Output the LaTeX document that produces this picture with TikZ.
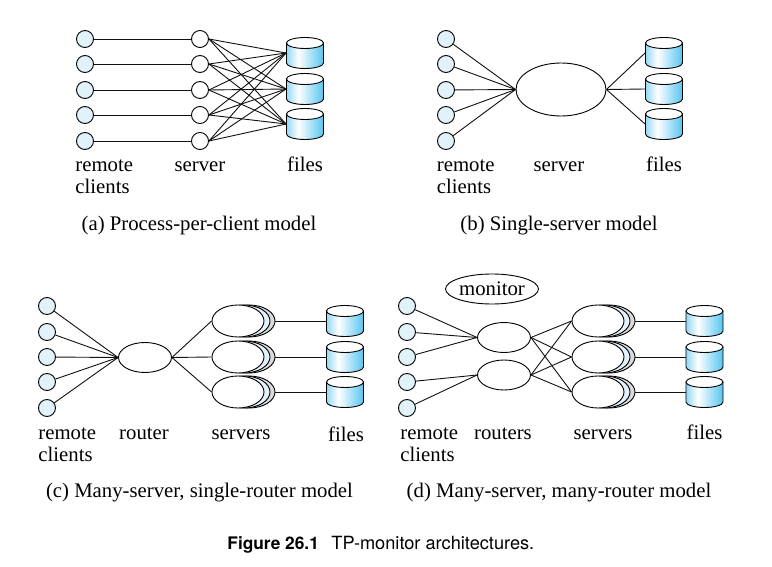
\documentclass[tikz,border=0pt]{standalone}
\usepackage{fontspec}
\setmainfont{Liberation Serif}
\newfontfamily\capfont{TeX Gyre Heros}
\usepackage{tikz}
\usetikzlibrary{arrows.meta,positioning,shapes.geometric,calc}
\definecolor{clientblue}{HTML}{E1F2FA}
\definecolor{stackgray}{HTML}{D9DADB}
\definecolor{wirecol}{HTML}{111111}
\definecolor{diskedge}{HTML}{94D8F3}
\definecolor{diskdeep}{HTML}{56C5F0}
\pgfdeclarehorizontalshading{diskshade}{100bp}{color(0bp)=(diskedge);color(25bp)=(diskedge);color(41bp)=(white);color(75bp)=(diskdeep);color(100bp)=(diskdeep)}

\begin{document}
\begin{tikzpicture}[
    x=1pt,
    y=-1pt,
    font=\fontsize{20.75}{24}\selectfont,
    line width=0.9pt,
    client/.style={circle, draw=black, fill=clientblue, minimum size=17pt, inner sep=0pt},
    proc/.style={circle, draw=black, fill=white, minimum size=17pt, inner sep=0pt},
    blob/.style={ellipse, draw=black, fill=white, inner sep=0pt},
    bigserver/.style={blob, minimum width=90pt, minimum height=53pt},
    router/.style={blob, minimum width=53pt, minimum height=30pt},
    srvfront/.style={blob, minimum width=52pt, minimum height=32pt},
    wire/.style={draw=wirecol},
    tag/.style={inner sep=0pt, anchor=base},
    pics/filedisk/.style={code={
      \path[draw=black, shading=diskshade] (-18.5,-10) -- (-18.5,10) arc[start angle=180, end angle=0, x radius=18.5, y radius=5.5] -- (18.5,-10) -- cycle;
      \draw[fill=white] (0,-10) ellipse [x radius=18.5, y radius=5.5];
      \node[minimum width=37pt, minimum height=31pt, inner sep=0pt] (box) at (0,0) {};
    }}
  ]
    \path[use as bounding box] (0,0) rectangle (772,567);

    % (a)
    \foreach \n/\y in {1/39,2/64,3/90,4/115,5/141} {
      \node[client] (ac\n) at (85,\y) {};
      \node[proc] (as\n) at (200,\y) {};
      \draw[wire] (ac\n) -- (as\n);
    }
    \foreach \n/\y in {1/53,2/89,3/124} {
      \pic (af\n) at (305,\y) {filedisk};
    }
    \foreach \i in {1,...,5} {
      \foreach \j in {1,2,3} {
        \draw[wire] (as\i.east) -- (af\j box.west);
      }
    }
    \node[tag, anchor=base west] (aremote) at (75,172) {remote};
    \node[tag, anchor=base west] (aclients) at (75,194) {clients};
    \node[tag] (aserver) at (200,172) {server};
    \node[tag] (afiles) at (305,172) {files};
    \node[tag] (acap) at (199,231) {(a) Process-per-client model};

    % (b)
    \node[bigserver] (bs) at (561,89.5) {};
    \foreach \n/\y in {1/39,2/64,3/90,4/115,5/141} {
      \node[client] (bc\n) at (446,\y) {};
      \draw[wire] (bc\n) -- (bs.west);
    }
    \foreach \n/\y in {1/53,2/89,3/124} {
      \pic (bf\n) at (664,\y) {filedisk};
      \draw[wire] (bs.east) -- (bf\n box.west);
    }
    \node[tag, anchor=base west] (bremote) at (436.5,172) {remote};
    \node[tag, anchor=base west] (bclients) at (436.5,194) {clients};
    \node[tag] (bserver) at (559,172) {server};
    \node[tag] (bfiles) at (664,172) {files};
    \node[tag] (bcap) at (559,231) {(b) Single-server model};

    % (c)
    \node[router] (cr) at (145,357.5) {};
    \foreach \n/\y in {1/306,2/332,3/357,4/382,5/408} {
      \node[client] (cc\n) at (47,\y) {};
      \draw[wire] (cc\n) -- (cr.west);
    }
    \foreach \n/\y in {1/321,2/357,3/392} {
      \node[srvfront, fill=stackgray] (cb\n) at (249,\y) {};
      \node[srvfront, fill=clientblue] (cm\n) at (244,\y) {};
      \node[srvfront] (cs\n) at (238,\y) {};
      \pic (cf\n) at (345,\y) {filedisk};
      \draw[wire] (cr.east) -- (cs\n.west);
      \draw[wire] (cb\n.east) -- (cf\n box.west);
    }
    \node[tag, anchor=base west] (cremote) at (38,439) {remote};
    \node[tag, anchor=base west] (cclients) at (38,461) {clients};
    \node[tag] (crouter) at (144,439) {router};
    \node[tag] (cservers) at (241,439) {servers};
    \node[tag] (cfiles) at (346,441) {files};
    \node[tag] (ccap) at (199.5,497) {(c) Many-server, single-router model};

    % (d)
    \node[blob, minimum width=89pt, minimum height=30pt] (dmon) at (492,289) {monitor};
    \node[router] (dr1) at (504,337.5) {};
    \node[router] (dr2) at (504,375) {};
    \foreach \n/\y/\r in {1/306/1,2/332/1,3/357/1,4/382/2,5/408/2} {
      \node[client] (dc\n) at (407,\y) {};
      \draw[wire] (dc\n) -- (dr\r.west);
    }
    \foreach \n/\y in {1/321,2/357,3/392} {
      \node[srvfront, fill=stackgray] (db\n) at (609,\y) {};
      \node[srvfront, fill=clientblue] (dm\n) at (604,\y) {};
      \node[srvfront] (ds\n) at (598,\y) {};
      \pic (df\n) at (704.5,\y) {filedisk};
      \draw[wire] (dr1.east) -- (ds\n.west);
      \draw[wire] (dr2.east) -- (ds\n.west);
      \draw[wire] (db\n.east) -- (df\n box.west);
    }
    \node[tag, anchor=base west] (dremote) at (400,439) {remote};
    \node[tag, anchor=base west] (dclients) at (400,461) {clients};
    \node[tag] (drouters) at (503,439) {routers};
    \node[tag] (dservers) at (603,439) {servers};
    \node[tag] (dfiles) at (704.5,439) {files};
    \node[tag] (dcap) at (559,497) {(d) Many-server, many-router model};

    % figure caption
    \node[tag, anchor=base west, font=\capfont\fontsize{17.3}{20}\selectfont\bfseries] (fignum) at (227,549) {Figure 26.1};
    \node[tag, anchor=base west, font=\capfont\fontsize{18.2}{20}\selectfont] (figtext) at (331,549) {TP-monitor architectures.};
  \end{tikzpicture}
\end{document}
